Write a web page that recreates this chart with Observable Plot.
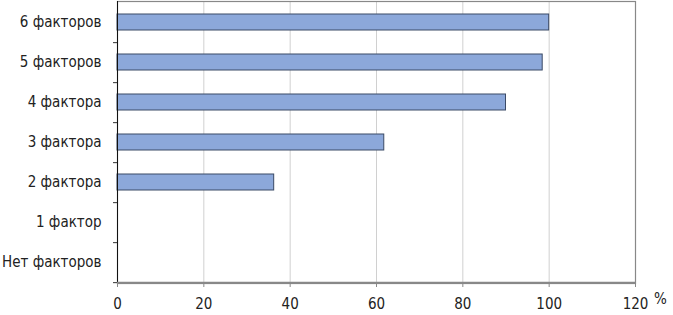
<!DOCTYPE html>
<html><head><meta charset="utf-8">
<script src="https://cdn.jsdelivr.net/npm/d3@7"></script>
<script src="https://cdn.jsdelivr.net/npm/@observablehq/plot@0.6"></script>
<style>
body{margin:0;background:#fff;}
svg{font-family:"Liberation Sans Narrow","DejaVu Sans Condensed",sans-serif;}
</style>
</head><body><div id="chart"></div>
<script>
const categories = ["6 факторов","5 факторов","4 фактора","3 фактора","2 фактора","1 фактор","Нет факторов"];
const values = [100, 98.5, 90, 61.8, 36.3, 0, 0];
const xTicks = [0,20,40,60,80,100,120];
const unitLabel = "%";

const data = categories.map((c,i)=>({cat:c, v:values[i]}));
const H = 315, mt = 1, mb = 32;
const step = (H - mt - mb) / categories.length;

const chart = Plot.plot({
  width: 673, height: H,
  marginLeft: 117, marginRight: 38, marginTop: mt, marginBottom: mb,
  style: {fontSize: "15px", fontFamily: '"Liberation Sans Narrow","DejaVu Sans Condensed",sans-serif', color:"#222"},
  x: {domain:[0,120], ticks: xTicks, label: null},
  y: {domain: categories, paddingInner: 0.6, paddingOuter: 0.3, label: null},
  marks: [
    Plot.gridX(xTicks.slice(1,-1), {stroke:"#d0d0d0", strokeOpacity:1}),
    Plot.frame({stroke:"#888", strokeWidth:1.2}),
    Plot.barX(data.filter(d=>d.v>0), {x:"v", y:"cat", fill:"#8ca8da", stroke:"#3b4a66", strokeWidth:1}),
    Plot.ruleX([0], {stroke:"#111", strokeWidth:1}),
    Plot.ruleY([categories[categories.length-1]], {y: d=>d, x1:0, x2:120, dy: step/2, stroke:"#888", strokeWidth:1.8}),
    Plot.axisX({ticks: xTicks, tickSize:4, tickPadding:11, stroke:"#888", label:null, fontSize:15}),
    Plot.axisY({tickSize:4, tickFormat: ()=>"", dy: step/2, stroke:"#333"}),
    Plot.axisY({tickSize:0, tickPadding:16, fontSize:15}),
    Plot.text([unitLabel], {x: 120, frameAnchor:"bottom", dx: 25, dy: 20, fontSize:15, fill:"#222"})
  ]
});
document.getElementById("chart").appendChild(chart);
</script>
</body></html>
